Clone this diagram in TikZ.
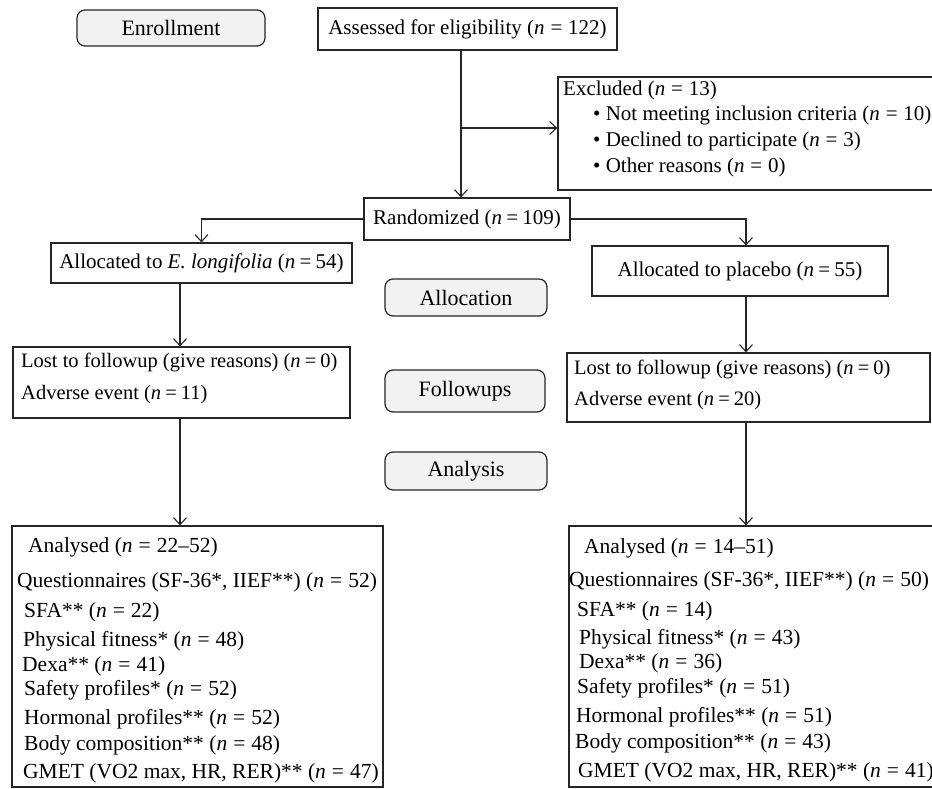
\documentclass[tikz,border=0pt]{standalone}
\usepackage{fontspec}
\setmainfont{Liberation Serif}
\usetikzlibrary{arrows.meta}
\newcommand\nn[1]{(\textit{n}\hspace{0.28em}=\hspace{0.28em}#1)}
\newcommand\nc[1]{(\textit{n}\hspace{0.2em}=\hspace{0.2em}#1)}
\begin{document}
\begin{tikzpicture}[x=1pt,y=-1pt,
  box/.style={draw=black!85, line width=1.2pt, inner sep=0pt, rectangle},
  phase/.style={box, rounded corners=8pt, fill=black!5, font=\fontsize{22}{26}\selectfont},
  txt/.style={anchor=west, inner sep=0pt, font=\fontsize{21}{25}\selectfont},
  btxt/.style={anchor=west, inner sep=0pt, font=\fontsize{21.5}{25}\selectfont},
  mtxt/.style={anchor=west, inner sep=0pt, font=\fontsize{20.5}{25}\selectfont},
  ctxt/.style={inner sep=0pt, font=\fontsize{21}{25}\selectfont},
  arr/.style={line width=1.1pt, draw=black!85, -{Straight Barb[length=7pt,width=13pt,line width=1.1pt]}},
  ln/.style={line width=1.1pt, draw=black!85}]
\useasboundingbox (0,0) rectangle (932,789);
\fill[white] (0,0) rectangle (932,789);

% phase labels
\node[phase, minimum width=188pt, minimum height=36pt] (enroll) at (171,28) {Enrollment};
\node[phase, minimum width=162pt, minimum height=37pt] (alloc) at (466,297.5) {Allocation};
\node[phase, minimum width=160pt, minimum height=42pt] (follow) at (465,391) {Followups};
\node[phase, minimum width=162pt, minimum height=38pt] (analysis) at (466,471) {Analysis};

% main boxes
\node[box, minimum width=299pt, minimum height=42pt] (assess) at (467.5,29) {};
\node[ctxt] (assesst) at (assess.center) {Assessed for eligibility \nn{122}};

\node[box, minimum width=382pt, minimum height=113pt] (excl) at (749,133.5) {};
\node[txt] (ex0) at (563,90) {Excluded \nn{13}};
\node[txt] (ex1) at (593,115) {\textbullet\ Not meeting inclusion criteria \nn{10}};
\node[txt] (ex2) at (593,141) {\textbullet\ Declined to participate \nn{3}};
\node[txt] (ex3) at (593,167) {\textbullet\ Other reasons \nn{0}};

\node[box, minimum width=206pt, minimum height=42pt] (rand) at (467,219) {};
\node[ctxt] (randt) at (rand.center) {Randomized \nc{109}};

\node[box, minimum width=301pt, minimum height=40pt] (allocL) at (201.5,263) {};
\node[ctxt] (allocLt) at (allocL.center) {Allocated to \textit{E. longifolia} \nc{54}};
\node[box, minimum width=296pt, minimum height=50pt] (allocR) at (740,271) {};
\node[ctxt] (allocRt) at (allocR.center) {Allocated to placebo \nc{55}};

\node[box, minimum width=337pt, minimum height=71pt] (lostL) at (181.5,382.5) {};
\node[mtxt] (lostL1) at (21,362) {Lost to followup (give reasons) \nc{0}};
\node[mtxt] (lostL2) at (21,395) {Adverse event \nc{11}};
\node[box, minimum width=363pt, minimum height=69pt] (lostR) at (748.5,387.5) {};
\node[mtxt] (lostR1) at (574,369) {Lost to followup (give reasons) \nc{0}};
\node[mtxt] (lostR2) at (574,401) {Adverse event \nc{20}};

\node[box, minimum width=371pt, minimum height=261pt] (anL) at (197.5,656.5) {};
\node[btxt] (aL0) at (28,547) {Analysed \nn{22--52}};
\node[btxt] (aL1) at (17,582) {Questionnaires (SF-36*, IIEF**) \nn{52}};
\node[btxt] (aL2) at (24,612) {SFA** \nn{22}};
\node[btxt] (aL3) at (23,641) {Physical fitness* \nn{48}};
\node[btxt] (aL4) at (22,666) {Dexa** \nn{41}};
\node[btxt] (aL5) at (24,690) {Safety profiles* \nn{52}};
\node[btxt] (aL6) at (24,719) {Hormonal profiles** \nn{52}};
\node[btxt] (aL7) at (24,745) {Body composition** \nn{48}};
\node[btxt] (aL8) at (23,773) {GMET (VO2 max, HR, RER)** \nn{47}};

\node[box, minimum width=371pt, minimum height=261pt] (anR) at (754.5,656.5) {};
\node[btxt] (aR0) at (584,548) {Analysed \nn{14--51}};
\node[btxt] (aR1) at (569,581) {Questionnaires (SF-36*, IIEF**) \nn{50}};
\node[btxt] (aR2) at (577,611) {SFA** \nn{14}};
\node[btxt] (aR3) at (579,639) {Physical fitness* \nn{43}};
\node[btxt] (aR4) at (579,663) {Dexa** \nn{36}};
\node[btxt] (aR5) at (577,688) {Safety profiles* \nn{51}};
\node[btxt] (aR6) at (576,717) {Hormonal profiles** \nn{51}};
\node[btxt] (aR7) at (575,743) {Body composition** \nn{43}};
\node[btxt] (aR8) at (578,772) {GMET (VO2 max, HR, RER)** \nn{41}};

% connector guide coordinates
\coordinate (xm) at (461,128);
\coordinate (xl) at (180,0);
\coordinate (xr) at (746,0);

\draw[arr] (xm |- assess.south) -- (xm |- rand.north);
\draw[arr] (xm) -- (xm -| excl.west);
\draw[arr] (rand.west) -| (allocL.north);
\draw[arr] (rand.east) -| (xr |- allocR.north);
\draw[arr] (xl |- allocL.south) -- (xl |- lostL.north);
\draw[arr] (xr |- allocR.south) -- (xr |- lostR.north);
\draw[arr] (xl |- lostL.south) -- (xl |- anL.north);
\draw[arr] (xr |- lostR.south) -- (xr |- anR.north);
\end{tikzpicture}
\end{document}
